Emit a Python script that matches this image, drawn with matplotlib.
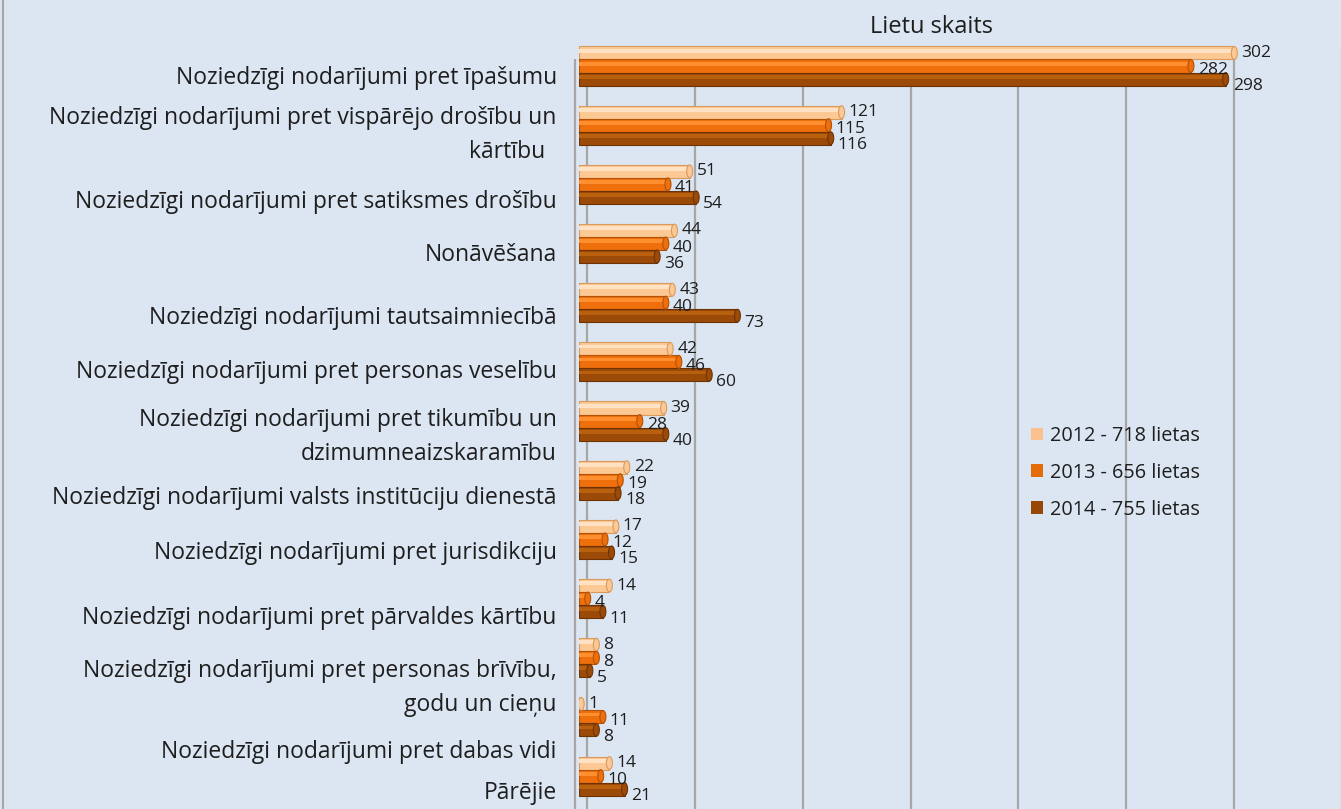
import matplotlib
matplotlib.use("Agg")
import matplotlib.pyplot as plt
import matplotlib.patches as patches
import matplotlib.transforms as mtransforms
import numpy as np

# ===== DỮ LIỆU =====
categories = [
    "Noziedzīgi nodarījumi pret īpašumu",
    "Noziedzīgi nodarījumi pret vispārējo drošību un\nkārtību  ",
    "Noziedzīgi nodarījumi pret satiksmes drošību",
    "Nonāvēšana",
    "Noziedzīgi nodarījumi tautsaimniecībā",
    "Noziedzīgi nodarījumi pret personas veselību",
    "Noziedzīgi nodarījumi pret tikumību un\ndzimumneaizskaramību",
    "Noziedzīgi nodarījumi valsts institūciju dienestā",
    "Noziedzīgi nodarījumi pret jurisdikciju",
    "Noziedzīgi nodarījumi pret pārvaldes kārtību",
    "Noziedzīgi nodarījumi pret personas brīvību,\ngodu un cieņu",
    "Noziedzīgi nodarījumi pret dabas vidi",
    "Pārējie",
]
series_labels = ["2012 - 718 lietas", "2013 - 656 lietas", "2014 - 755 lietas"]
v2012 = [302, 121, 51, 44, 43, 42, 39, 22, 17, 14, 8, 1, 14]
v2013 = [282, 115, 41, 40, 40, 46, 28, 19, 12, 4, 8, 11, 10]
v2014 = [298, 116, 54, 36, 73, 60, 40, 18, 15, 11, 5, 8, 21]
x_title = "Lietu skaits"

# ===== KIỂU =====
nen = "#dce6f2"
mau_luoi = "#a6a6a6"
mau_chu = "#1e1e1e"
# (chính, sáng, tối)
mau_cot = [
    ("#fcc894", "#ffe2c4", "#d99a5e"),
    ("#ee6f0c", "#ff8f2e", "#b35206"),
    ("#9c4a08", "#b9600f", "#6e3304"),
]
mau_chu_thich = ["#fac090", "#e36c09", "#974806"]
# dịch nhãn danh mục theo pixel (xuống dưới)
label_dy = [9, 2, 15, 8, 12, 7, 8, 15, 11, 16, 22, 32, 14]
# dịch nhãn giá trị theo chuỗi (pixel xuống dưới)
val_dy = [0, 4, 7]

plt.rcParams['font.family'] = ['Open Sans', 'DejaVu Sans']

W, H = 1341, 809
fig = plt.figure(figsize=(W / 100, H / 100), dpi=100)
fig.patch.set_facecolor(nen)

x0_px, top_px = 579, 42
px_per_unit = 2.17
grp_px = 59.17
first_px = 66

ax = fig.add_axes([x0_px / W, 0, 1 - x0_px / W, 1 - top_px / H])
ax.set_facecolor(nen)
ax.set_xlim(0, (W - x0_px) / px_per_unit)
ax.set_ylim((H - first_px) / grp_px, -(first_px - top_px) / grp_px)

n = len(categories)
y = np.arange(n)
h = 0.22

# luới dọc (tường sau lệch ~8px)
back = 8 / px_per_unit
ax.vlines([back + k * 49.7 for k in range(8)], -0.3, 12.6,
          color=mau_luoi, lw=1.6, zorder=1)
ax.vlines([-1.8], -0.12, 12.6, color=mau_luoi, lw=1.6, zorder=1, clip_on=False)

ban_kinh_x = 3.0 / px_per_unit
for i, vals in enumerate([v2012, v2013, v2014]):
    yy = y + (i - 1) * h
    chinh, sang, toi = mau_cot[i]
    ax.barh(yy, vals, height=h, color=chinh, edgecolor=toi, linewidth=0.8, zorder=3)
    ax.barh(yy - h * 0.18, vals, height=h * 0.3, color=sang, linewidth=0, zorder=4)
    for yv, v in zip(yy, vals):
        ax.add_patch(patches.Ellipse((v, yv), 2 * ban_kinh_x, h * 0.98,
                                     facecolor=chinh, edgecolor=toi, lw=0.8, zorder=5))
        ax.annotate(str(v), (v, yv), xytext=(7, -val_dy[i]), textcoords="offset pixels",
                    ha="left", va="center", fontsize=12.5, color=mau_chu, zorder=6)

ax.set_yticks(y)
ax.set_yticklabels(categories, fontsize=16.5, color=mau_chu, linespacing=1.57)
ax.tick_params(axis="y", length=0, pad=16)
ax.set_xticks([])
for sp in ax.spines.values():
    sp.set_visible(False)
for lbl, dy in zip(ax.get_yticklabels(), label_dy):
    lbl.set_transform(lbl.get_transform() +
                      mtransforms.ScaledTranslation(0, -dy / 100, fig.dpi_scale_trans))

fig.text(932 / W, 1 - 27 / H, x_title, ha="center", va="center", fontsize=17, color=mau_chu)

# viền trái
fig.add_artist(plt.Line2D([3 / W, 3 / W], [0, 1], color=mau_luoi, lw=1.5))

handles = [patches.Patch(facecolor=c, edgecolor="none") for c in mau_chu_thich]
fig.legend(handles, series_labels, loc="upper left", bbox_to_anchor=(1013 / W, 1 - 408 / H),
           frameon=False, fontsize=14.3, handlelength=0.6, handleheight=0.6,
           labelspacing=0.85, handletextpad=0.35, labelcolor=mau_chu)

fig.savefig("out.png", dpi=100, facecolor=nen)
